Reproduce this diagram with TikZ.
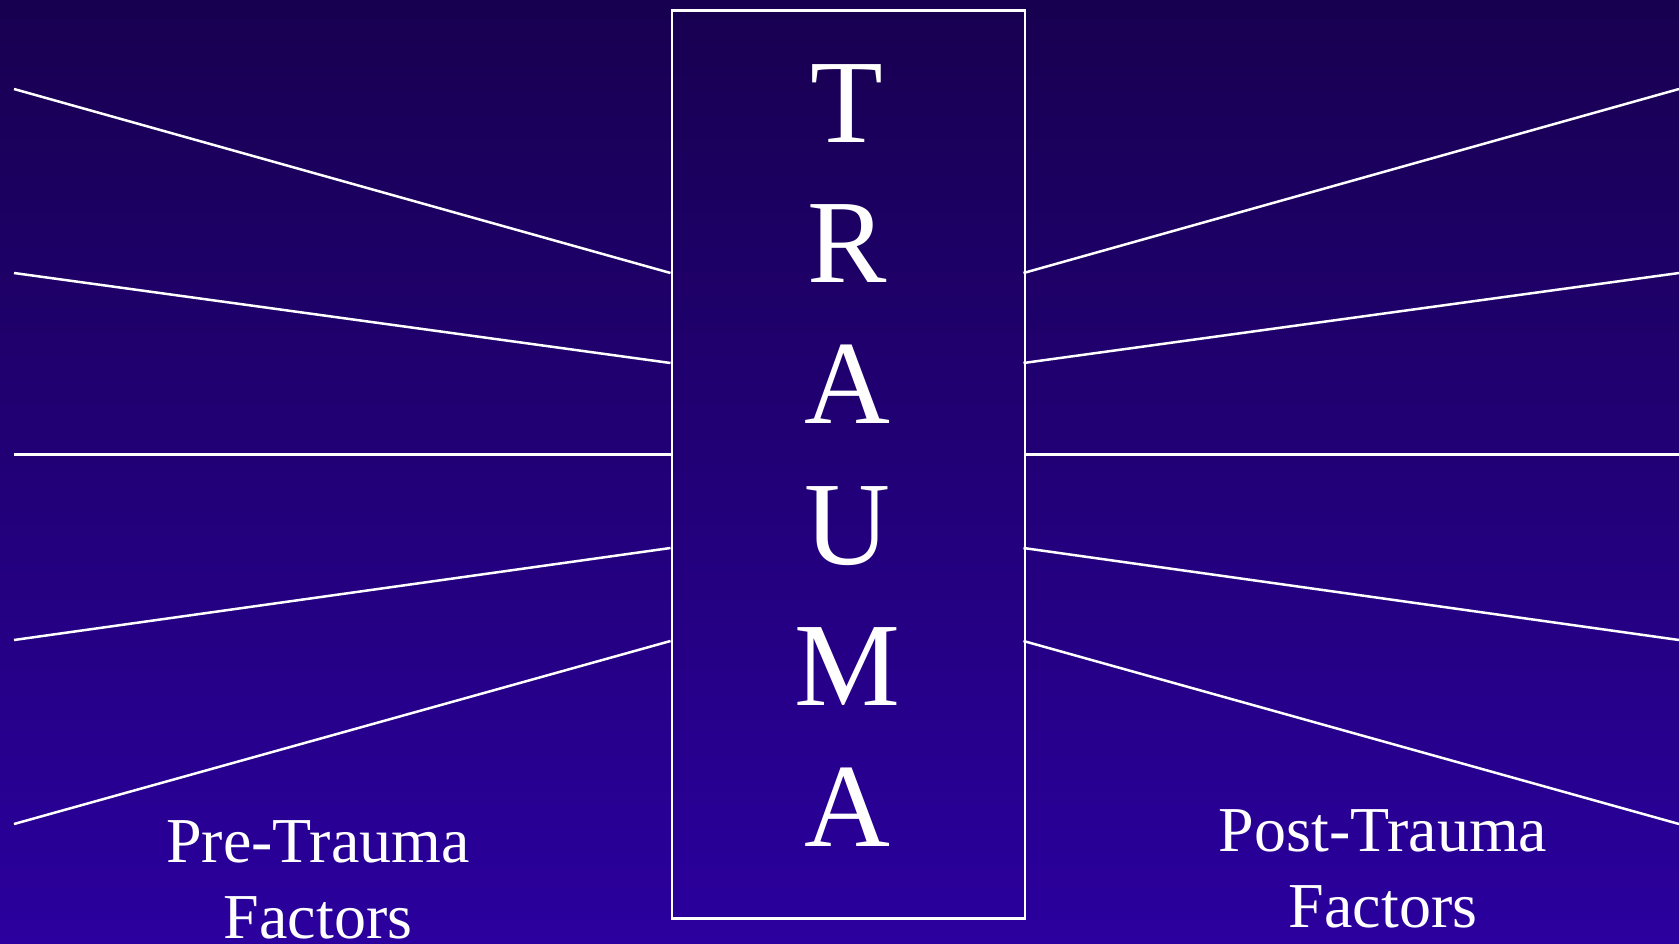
\documentclass[tikz,border=0pt]{standalone}
\usepackage{fontspec}
\setmainfont{Liberation Serif}
\definecolor{bgtop}{HTML}{180050}
\definecolor{bgbottom}{HTML}{2B009E}
\begin{document}
\begin{tikzpicture}[
    x=1pt, y=-1pt,
    spoke/.style={draw=white, line width=2.5pt},
    letter/.style={text=white, font=\fontsize{119}{119}\selectfont, anchor=base, inner sep=0pt},
    factor/.style={text=white, font=\fontsize{64}{76}\selectfont, align=center, anchor=base, inner sep=0pt}
]
% Background
\shade[top color=bgtop, bottom color=bgbottom] (0,0) rectangle (1679,943);
\useasboundingbox (0,0) rectangle (1679,943);
% Central box
\node[draw=white, line width=2.5pt, minimum width=353pt, minimum height=908pt,
      inner sep=0pt, anchor=north west] (box) at (670.5,9) {};
% Letters
\foreach \ch [count=\i] in {T,R,A,U,M,A}
    \node[letter] (lt\i) at (847,{142+140.8*(\i-1)}) {\ch};
% Spokes left and right
\foreach \ya/\yb [count=\i] in {89/273, 273/363, 454/454, 640/548, 824/641} {
    \coordinate (lout\i) at (14,\ya);
    \coordinate (lin\i) at (670.5,\yb);
    \coordinate (rin\i) at (1023.5,\yb);
    \coordinate (rout\i) at (1679,\ya);
}
\foreach \i in {1,2,4,5} {
    \draw[spoke] (lout\i) -- (lin\i);
    \draw[spoke] (rin\i) -- (rout\i);
}
\draw[spoke, line width=3pt] (lout3) -- (lin3);
\draw[spoke, line width=3pt] (rin3) -- (rout3);
% Labels (base anchor sits on the last line)
\node[factor] (pre) at (318,938) {Pre-Trauma\\Factors};
\node[factor] (post) at (1383,927) {Post-Trauma\\Factors};
\end{tikzpicture}
\end{document}
